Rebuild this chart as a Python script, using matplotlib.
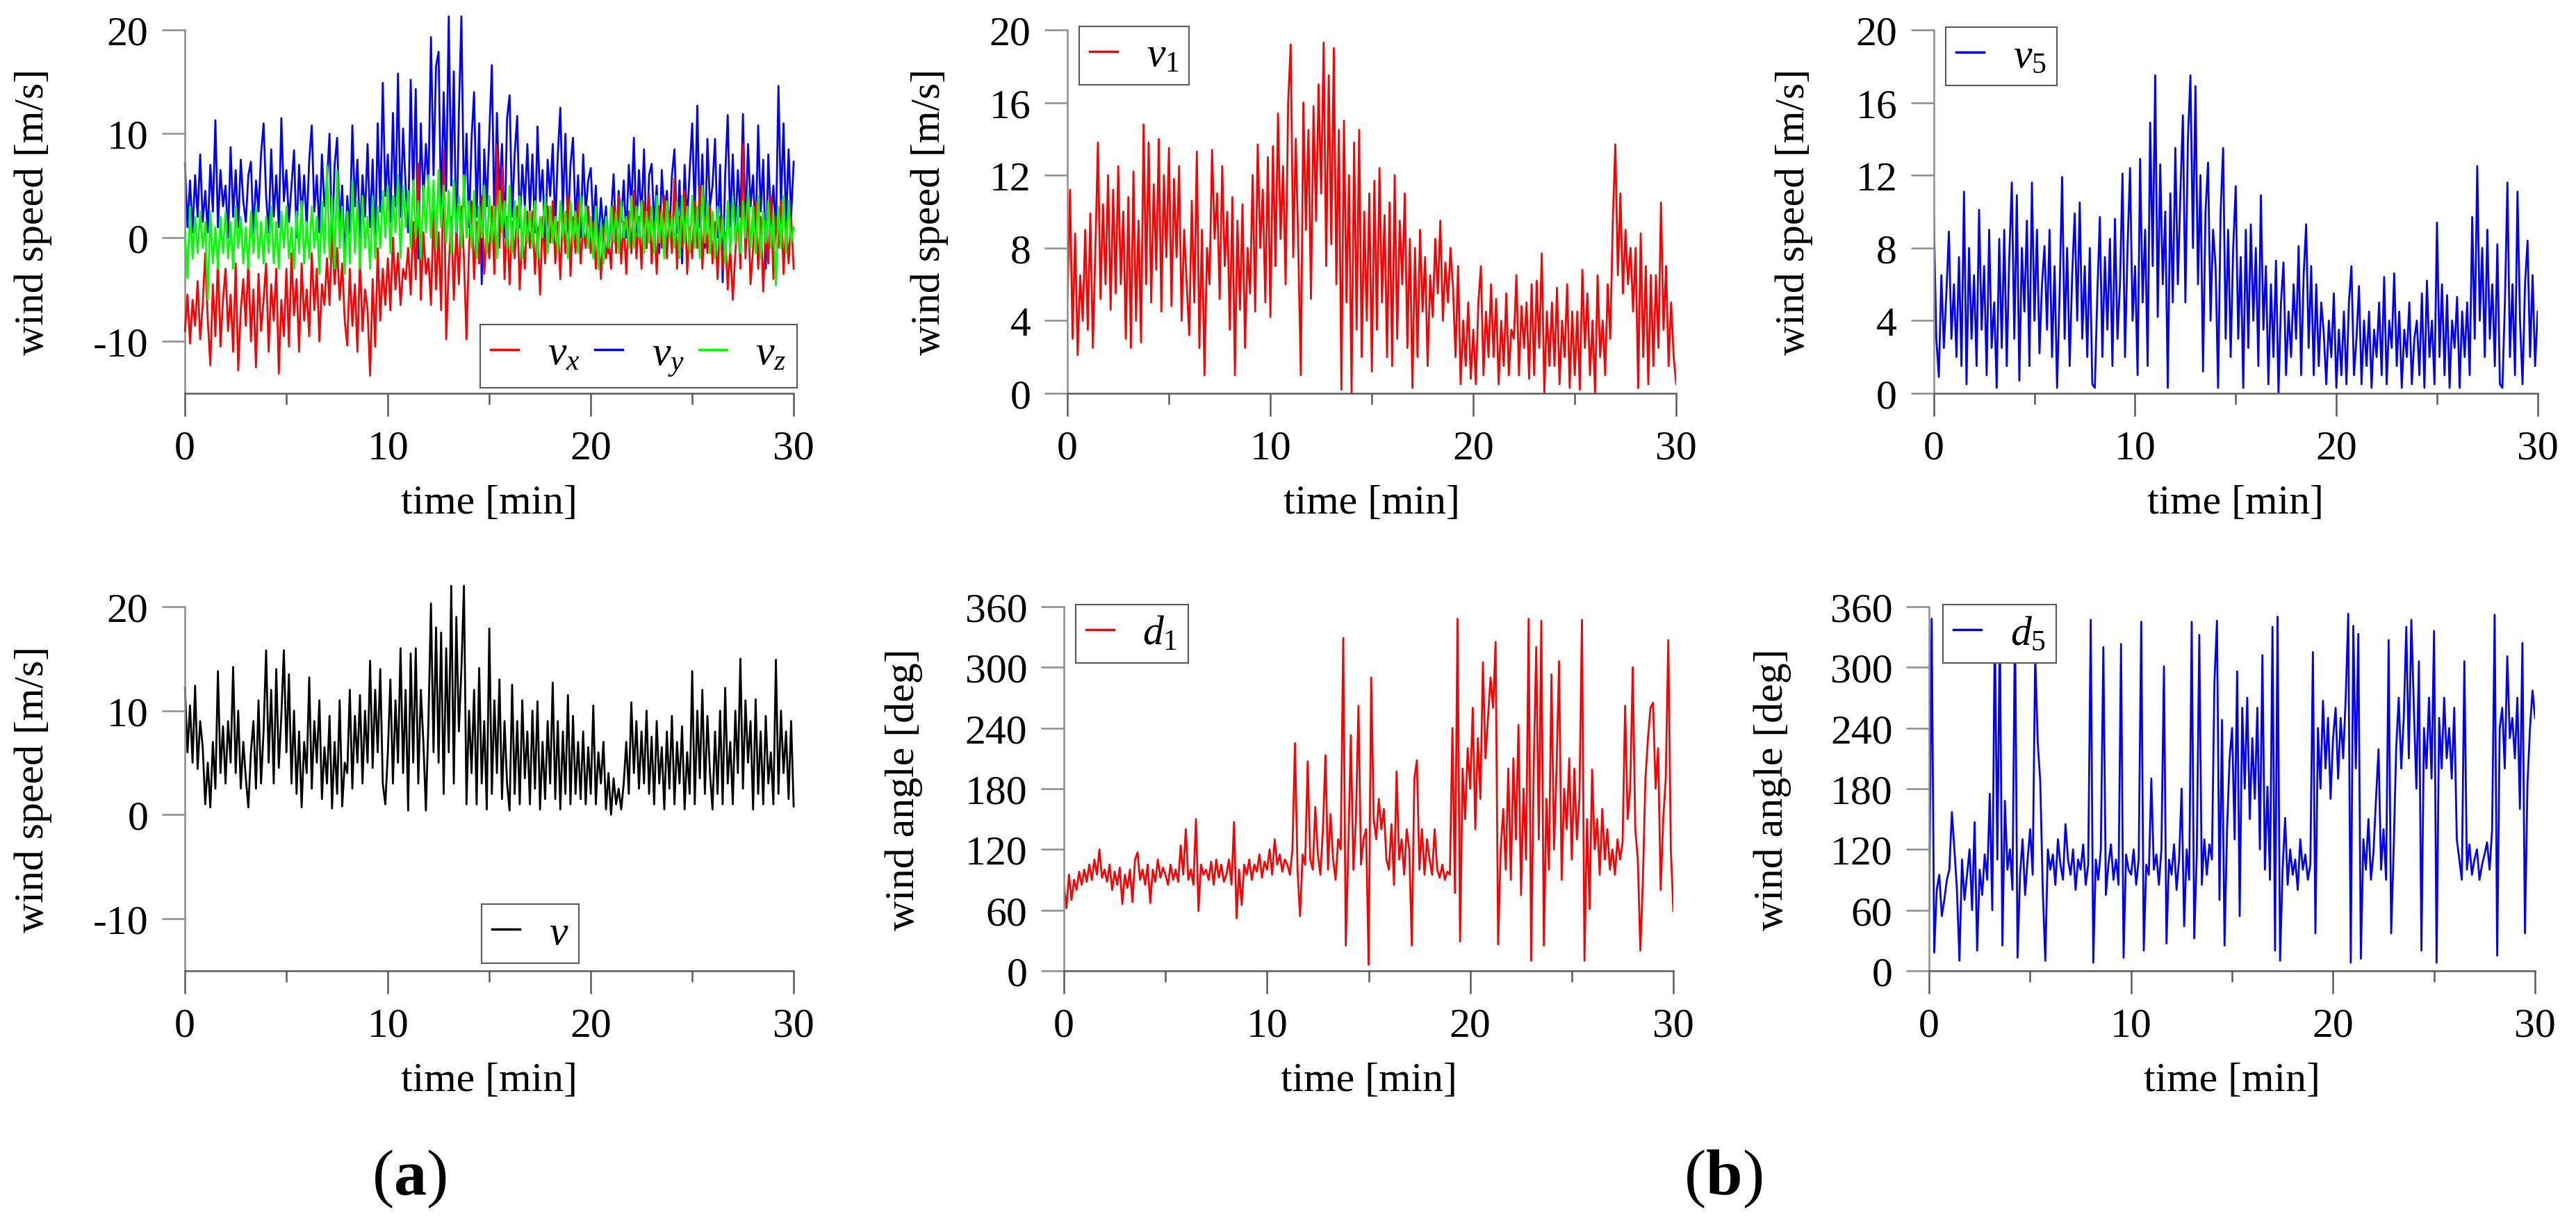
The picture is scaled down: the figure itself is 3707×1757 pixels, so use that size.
import numpy as np
import matplotlib.pyplot as plt

plt.rcParams['font.family'] = 'Liberation Serif'
plt.rcParams['mathtext.fontset'] = 'custom'
plt.rcParams['mathtext.rm'] = 'Liberation Serif'
plt.rcParams['mathtext.it'] = 'Liberation Serif:italic'
plt.rcParams['mathtext.bf'] = 'Liberation Serif:bold'
plt.rcParams['axes.unicode_minus'] = False

# values, 8 per minute (one row = one minute), last value at 30 min
vx = [-9.0, -5.5, -10.2, -6.0, -8.5, -4.2, -9.8, -6.5,
      -1.5, -8.0, -12.3, -4.5, -9.5, -2.0, -10.5, -6.0,
      -3.0, -9.0, -5.5, -11.0, -2.5, -12.8, -7.0, -4.0,
      -8.5, -2.0, -10.0, -5.0, -12.5, -3.5, -9.0, -6.0,
      -2.5, -11.0, -4.5, -8.0, -3.0, -13.1, -6.0, -9.5,
      -3.0, -10.5, -1.5, -7.5, -4.0, -11.0, -2.5, -8.0,
      -5.0, -9.5, -1.5, -7.0, -3.0, -10.0, -4.5, -6.5,
      -2.0, -6.5, 0.5, -4.5, -1.0, -6.0, -2.5, -8.0,
      -10.4, -3.0, -8.5, -4.5, -11.0, -2.0, -9.0, -5.0,
      -7.0, -13.3, -4.0, -10.5, -1.0, -8.0, -3.0, -6.5,
      -2.0, -7.0, 0.0, -5.0, -1.5, -6.5, -3.0, -4.0,
      -1.0, -5.5, 1.5, -4.0, 7.1, -6.0, 0.5, -3.5,
      -2.0, -6.5, 2.5, -5.0, 0.5, -7.0, 8.5, -9.8,
      -3.0, 2.0, -6.0, 1.0, -4.5, 3.0, -2.0, -9.8,
      -1.0, 3.5, -4.0, 1.5, -2.5, 4.0, -3.5, 0.5,
      -2.0, 3.0, -3.5, 8.9, -1.0, 6.9, -4.0, 2.0,
      -4.5, 1.5, -2.0, 3.0, -5.0, 0.5, -3.0, 2.5,
      -1.0, 2.5, -3.5, 1.0, -5.5, 2.0, -2.5, 3.0,
      -0.5, 3.5, -2.5, 1.5, -4.0, 2.5, -1.5, 4.0,
      -3.7, 2.0, -1.5, 3.5, -2.5, 1.0, -1.0, 3.0,
      -1.5, 1.5, -3.0, 0.5, -4.0, 1.0, -2.0, 0.0,
      -3.0, 3.0, -1.5, 4.0, -2.5, 1.5, -3.5, 2.5,
      -1.5, 4.5, -2.0, 2.0, -3.0, 3.5, -1.0, 4.2,
      -2.5, 1.5, -3.5, 3.0, -1.0, 4.0, -2.0, 2.5,
      -1.5, 5.7, -3.0, 2.0, -1.0, 4.5, -3.5, 1.0,
      -2.0, 3.5, -1.0, 5.0, -3.0, 2.0, -1.5, 3.0,
      -2.5, 1.5, -4.0, 2.0, -3.0, 0.5, -5.0, -1.0,
      -6.0, -1.5, 2.5, -3.0, 9.0, -2.0, 3.0, -4.5,
      -1.0, 3.5, -3.0, 2.0, -5.2, 1.0, -2.5, 4.0,
      -4.0, 2.0, -1.0, 3.5, -3.5, 1.5, -2.5, 2.0,
      -3.0]

vy = [7.2, 1.0, 5.5, 0.5, 6.0, 2.0, 8.0, 1.5,
      4.5, 0.5, 7.0, 2.5, 11.3, 1.0, 6.5, 3.0,
      5.0, 0.0, 8.7, 2.0, 6.5, 1.0, 7.5, 3.5,
      1.5, 6.0, 7.3, 0.5, 5.5, 2.5, 8.0, 11.0,
      4.0, 0.5, 8.5, 2.0, 6.0, 1.0, 11.5, 3.5,
      6.5, 1.5, 5.0, 8.4, 0.0, 7.0, 2.0, 6.0,
      1.0, 7.5, 10.8, 2.5, 6.0, 0.5, 8.0, 3.0,
      5.5, 10.0, -1.0, 7.0, 9.6, 1.0, 5.0, -2.5,
      4.0, 0.5, 10.8, 3.0, 7.5, 0.0, 6.0, 2.0,
      9.0, 1.0, 7.5, -1.0, 11.0, 2.5, 14.9, 4.0,
      8.0, 1.5, 12.0, 3.0, 15.8, 2.0, 10.5, 5.0,
      0.5, 15.2, 4.0, 14.3, -2.0, 11.0, 3.5, 9.0,
      5.0, 19.3, 6.0, 16.5, 17.9, 2.0, 14.0, 4.5,
      21.3, 5.0, 16.0, -1.5, 12.0, 21.3, 3.0, 10.0,
      1.0, 9.5, 14.0, 2.0, 11.0, -4.5, 8.5, 3.0,
      10.0, 16.6, 1.5, 12.0, 4.0, 9.0, 0.0, 11.5,
      13.7, 2.0, 8.0, 11.7, 1.0, 7.0, 3.0, 9.0,
      2.5, 8.0, 0.5, 10.7, 3.5, 6.5, -1.0, 7.5,
      4.0, 9.0, 1.0, 8.0, 12.5, 2.5, 10.0, 0.5,
      7.0, 9.6, 1.5, 6.0, 0.0, 8.0, 2.5, 5.5,
      6.7, 1.0, 5.0, -1.0, 3.8, 0.5, 3.0, -1.5,
      2.0, 6.1, -0.5, 4.5, 1.5, 5.5, 0.0, 7.0,
      3.0, 9.6, 0.5, 6.5, 2.0, 8.5, -1.0, 6.0,
      7.1, 1.0, 5.0, -1.5, 6.5, 2.0, 4.5, 0.0,
      6.0, 8.5, 0.5, 5.5, -2.5, 7.0, 1.5, 6.5,
      11.0, 2.0, 12.7, 1.0, 8.0, -1.0, 9.5, 3.0,
      5.0, 9.5, 0.0, 7.0, -4.3, 6.0, 11.8, 1.0,
      8.0, 0.5, 6.5, 2.0, 11.9, 1.0, 9.0, 3.0,
      6.0, 0.0, 10.8, 2.5, 7.5, -3.0, 8.0, 1.5,
      5.0, 0.5, 14.6, 3.0, 11.0, 1.0, 8.5, 2.0,
      7.3]

vz = [0.5, -3.9, 3.0, -2.0, 2.0, -1.5, 2.5, -1.0,
      1.5, -6.0, 2.5, -2.5, 1.0, -3.0, 2.0, -1.5,
      2.5, -2.0, 1.5, -3.0, 3.0, -1.0, 2.0, -2.5,
      1.0, -3.0, 2.5, -1.5, 3.0, -2.0, 1.5, -2.5,
      2.0, -1.5, 3.0, -2.5, 1.5, -3.0, 2.5, -1.0,
      3.0, -2.0, 1.0, -3.0, 2.5, -1.5, 3.5, -2.5,
      1.5, -2.0, 3.0, -1.0, 2.0, -3.5, 3.5, -1.5,
      6.9, -2.0, 4.0, -3.0, 6.5, -1.0, 3.0, -3.5,
      2.5, -2.5, 5.5, -1.5, 3.5, -3.0, 4.0, -1.0,
      2.0, -3.0, 4.0, -2.0, 3.0, -1.0, 4.5, 0.0,
      5.0, -1.5, 4.0, 0.5, 6.0, -2.0, 5.0, 1.0,
      4.5, -1.0, 5.5, 0.0, 3.5, -2.0, 5.0, 0.5,
      6.0, 0.0, 5.5, -1.0, 6.5, 1.0, 5.0, -0.5,
      4.5, -1.5, 5.5, 0.5, 4.0, -1.0, 6.0, 0.0,
      3.5, -1.0, 4.5, -2.0, 3.0, 0.0, 5.0, -1.5,
      4.0, -0.5, 3.0, -2.0, 4.5, 0.5, 3.5, -1.0,
      5.0, -1.5, 3.5, 0.0, 4.0, -2.0, 3.0, -0.5,
      2.5, -1.0, 3.5, -2.0, 2.0, 0.0, 4.0, -1.5,
      3.0, -0.5, 2.0, -1.5, 3.5, 0.0, 2.5, -2.0,
      3.5, -0.5, 2.5, -1.5, 4.0, 0.0, 3.0, -1.0,
      2.0, -2.0, 3.0, -3.0, 1.5, -2.5, 2.0, -1.0,
      3.0, -0.5, 2.5, -1.5, 3.5, 0.0, 2.0, -1.0,
      4.0, -1.0, 3.0, 0.0, 3.5, -1.5, 2.5, -0.5,
      3.0, -1.5, 4.0, -0.5, 2.5, -2.0, 3.5, 0.0,
      2.0, -1.0, 3.5, -2.0, 4.0, -0.5, 3.0, -1.5,
      4.0, -1.0, 3.0, -2.0, 5.0, -0.5, 3.5, -1.5,
      2.5, -2.0, 3.0, -1.0, 2.0, -2.5, 3.5, -1.5,
      4.0, -0.5, 3.0, -1.5, 3.5, 0.0, 4.5, -1.0,
      3.0, -1.5, 4.0, -2.0, 2.5, -0.5, 3.5, -1.0,
      2.5, -4.6, 3.0, -1.0, 4.0, -1.5, 3.5, -0.5,
      1.0]

v = [12.2, 6.0, 10.5, 5.0, 12.4, 4.4, 9.0, 6.5,
     1.0, 5.0, 0.7, 7.0, 2.5, 13.8, 4.0, 8.5,
     3.0, 9.0, 5.0, 14.2, 4.0, 10.0, 2.5, 7.0,
     3.5, 0.7, 6.0, 9.0, 2.5, 11.0, 3.0, 8.0,
     15.8, 5.0, 12.0, 3.0, 14.0, 4.5, 9.5, 15.8,
     6.0, 13.5, 3.0, 10.0, 2.0, 8.0, 0.7, 7.0,
     4.0, 13.2, 2.5, 9.0, 5.0, 11.0, 1.5, 6.5,
     3.0, 9.5, 0.6, 7.0, 2.0, 11.0, 0.8, 5.0,
     4.0, 12.0, 2.5, 9.5, 5.0, 11.5, 3.0, 10.0,
     5.0, 14.8, 4.5, 12.0, 6.0, 14.0, 3.0, 1.0,
     6.0, 13.0, 3.0, 11.0, 5.0, 16.0, 4.0, 12.0,
     0.4, 15.5, 5.0, 16.0, 3.0, 12.0, 7.0, 0.4,
     9.0, 20.3, 6.0, 18.0, 5.0, 17.5, 2.0, 16.0,
     6.0, 22.0, 3.0, 19.0, 8.0, 14.0, 22.0, 1.0,
     10.0, 4.0, 12.0, 1.0, 14.1, 3.0, 9.0, 0.5,
     17.9, 2.0, 11.0, 4.0, 13.0, 1.5, 9.0, 3.0,
     0.4, 12.5, 2.0, 9.0, 1.0, 11.0, 3.5, 8.0,
     1.0, 10.0, 2.5, 10.9, 0.5, 7.0, 1.5, 9.0,
     3.0, 12.7, 1.5, 9.0, 0.5, 8.0, 2.0, 11.5,
     1.0, 9.5, 2.0, 7.0, 1.5, 8.0, 1.0, 6.5,
     2.0, 10.5, 1.0, 6.0, 3.0, 7.0, 0.5, 4.0,
     0.0, 3.5, 1.0, 2.5, 0.5, 3.0, 7.0, 2.0,
     10.8, 4.0, 9.0, 2.5, 8.0, 3.0, 10.0, 2.0,
     7.5, 1.0, 9.0, 3.0, 6.5, 0.5, 8.0, 2.5,
     9.5, 1.0, 7.0, 3.0, 8.5, 0.5, 6.0, 2.0,
     13.8, 1.0, 10.0, 3.5, 12.0, 2.0, 9.5, 4.0,
     0.5, 8.0, 2.0, 10.0, 1.0, 12.2, 3.0, 7.0,
     1.0, 10.0, 4.0, 15.0, 2.5, 11.0, 5.0, 9.0,
     0.5, 11.1, 2.0, 8.0, 1.0, 9.5, 3.0, 6.0,
     1.0, 14.9, 2.0, 10.0, 4.0, 8.0, 1.5, 9.0,
     0.8]

v1 = [5.2, 11.2, 3.0, 8.8, 2.1, 6.5, 4.0, 9.0,
      3.5, 9.9, 2.5, 8.0, 13.8, 5.2, 10.4, 6.0,
      12.0, 4.6, 11.2, 5.5, 12.5, 6.0, 10.0, 3.0,
      10.8, 2.5, 12.2, 4.0, 9.5, 2.8, 14.8, 6.0,
      13.8, 5.0, 11.5, 6.8, 14.0, 4.5, 12.0, 7.5,
      13.5, 4.8, 11.8, 7.5, 12.5, 4.0, 9.0, 6.0,
      3.2, 10.6, 5.0, 13.3, 2.5, 9.0, 1.0, 8.0,
      6.0, 13.4, 8.5, 11.0, 5.2, 12.5, 7.0, 10.0,
      3.5, 10.8, 1.0, 9.5, 4.6, 10.4, 2.5, 8.0,
      5.5, 12.0, 4.5, 13.7, 8.0, 11.2, 5.0, 13.0,
      4.2, 13.6, 7.0, 15.4, 8.5, 12.5, 6.0, 16.0,
      19.2, 7.5, 14.0, 8.0, 1.0, 16.0, 9.0, 14.5,
      5.2, 15.8, 9.5, 17.0, 11.0, 19.3, 7.0, 17.5,
      8.2, 19.0, 6.0, 14.5, 0.2, 15.0, 5.0, 12.0,
      0.0, 13.8, 3.5, 14.5, 2.0, 10.0, 4.0, 11.0,
      1.2, 11.7, 3.5, 12.4, 5.0, 9.8, 2.0, 10.5,
      1.5, 12.0, 3.0, 9.5, 6.0, 11.0, 2.5, 8.5,
      0.3, 8.0, 2.0, 9.0, 4.5, 7.5, 1.5, 6.5,
      4.2, 8.5, 5.5, 9.5, 4.0, 7.2, 5.0, 8.0,
      5.8, 2.0, 7.0, 0.5, 4.0, 1.5, 5.0, 0.8,
      3.5, 0.5, 5.0, 7.0, 1.0, 4.5, 2.0, 6.0,
      2.0, 5.2, 0.5, 4.0, 1.5, 5.5, 1.0, 3.5,
      3.0, 6.5, 1.0, 4.8, 2.5, 5.0, 0.8, 6.0,
      1.0, 6.2, 2.5, 7.7, 0.0, 4.5, 1.5, 5.0,
      1.5, 5.8, 0.5, 4.0, 2.0, 6.0, 0.3, 4.5,
      1.0, 4.5, 0.2, 6.8, 2.5, 5.5, 1.0, 4.0,
      0.0, 6.5, 2.0, 4.0, 1.0, 6.0, 3.0, 9.5,
      13.7, 6.5, 11.0, 5.5, 9.0, 6.0, 8.0, 4.5,
      8.0, 0.3, 8.8, 2.0, 7.0, 0.5, 6.5, 1.5,
      6.5, 2.5, 10.5, 3.5, 7.0, 1.5, 5.0, 2.0,
      0.5]

v5 = [9.7, 3.0, 0.9, 6.5, 2.5, 5.5, 8.9, 3.0,
      6.0, 2.0, 7.5, 1.5, 11.1, 0.5, 8.0, 3.0,
      6.5, 1.5, 10.1, 3.5, 7.0, 1.0, 9.0, 2.5,
      5.0, 0.3, 8.5, 2.5, 9.0, 1.5, 7.5, 11.6,
      3.0, 10.9, 0.7, 8.0, 4.5, 9.5, 1.5, 11.6,
      4.0, 9.0, 2.2, 6.0, 8.1, 3.5, 9.0, 2.0,
      7.0, 0.3, 5.5, 11.9, 3.0, 8.0, 1.5, 6.5,
      9.9, 4.0, 10.5, 3.0, 7.0, 2.0, 8.0, 0.5,
      0.3, 5.5, 9.7, 2.0, 7.5, 3.5, 8.5, 1.5,
      9.6, 3.0, 6.0, 12.1, 2.0, 8.0, 12.4, 4.0,
      7.0, 1.0, 12.9, 5.0, 9.0, 1.5, 14.9, 7.0,
      17.5, 4.2, 12.6, 6.0, 10.0, 0.3, 11.0, 5.0,
      13.5, 6.0, 11.0, 15.3, 5.0, 14.0, 17.5, 8.0,
      16.9, 6.0, 12.0, 1.2, 10.0, 12.7, 4.0, 9.0,
      7.0, 0.3, 10.0, 13.5, 3.0, 9.0, 2.0, 8.0,
      11.4, 3.0, 7.5, 0.3, 9.0, 2.5, 9.3, 4.0,
      8.0, 1.5, 10.9, 3.5, 7.0, 0.5, 6.0, 2.0,
      7.3, 0.0, 5.0, 7.2, 1.0, 4.5, 2.0, 6.0,
      3.0, 8.1, 1.0, 6.5, 9.3, 2.5, 7.0, 1.0,
      6.0, 1.5, 5.0, 3.3, 0.5, 4.0, 2.0, 5.5,
      0.3, 3.5, 1.0, 4.5, 0.5, 5.0, 7.0, 1.0,
      3.0, 5.9, 0.5, 4.0, 1.5, 4.5, 0.3, 3.5,
      2.0, 5.0, 1.0, 6.4, 0.5, 4.0, 2.5, 6.6,
      1.5, 4.5, 0.3, 3.5, 2.0, 5.0, 0.5, 3.0,
      4.0, 1.0, 5.5, 0.3, 6.2, 2.0, 4.0, 0.5,
      9.4, 2.0, 6.0, 1.0, 5.4, 0.3, 4.0, 2.5,
      5.3, 0.3, 4.5, 2.0, 5.0, 1.0, 9.7, 3.0,
      12.5, 4.0, 8.0, 2.0, 9.0, 3.0, 6.0, 1.5,
      8.2, 0.5, 0.3, 5.0, 11.6, 2.0, 6.0, 1.0,
      11.1, 4.0, 0.5, 6.0, 8.4, 2.0, 6.5, 1.5,
      4.5]

d1 = [85, 62, 95, 70, 90, 80, 98, 85,
      100, 88, 105, 90, 110, 95, 120, 92,
      100, 88, 105, 80, 98, 85, 102, 66,
      95, 82, 100, 68, 110, 117, 90, 100,
      85, 105, 67, 100, 88, 110, 92, 102,
      95, 85, 105, 90, 100, 88, 124, 95,
      140, 90, 100, 85, 150, 59, 105, 95,
      100, 90, 108, 85, 110, 92, 105, 88,
      95, 110, 85, 147, 52, 100, 65, 105,
      95, 110, 90, 105, 98, 115, 92, 108,
      100, 120, 95, 130, 105, 115, 98, 110,
      105, 95, 120, 225, 100, 54, 115, 105,
      207, 110, 100, 162, 115, 95, 140, 213,
      100, 155, 110, 90, 130, 120, 329, 25,
      120, 233, 100, 150, 262, 105, 130, 140,
      6, 290, 150, 130, 170, 140, 160, 110,
      100, 145, 85, 197, 110, 130, 95, 140,
      120, 25, 190, 208, 100, 140, 95, 130,
      110, 95, 140, 100, 92, 105, 90, 98,
      95, 240, 77, 348, 29, 200, 150, 220,
      180, 260, 140, 230, 170, 305, 210, 250,
      290, 260, 325, 26, 120, 160, 100, 200,
      90, 210, 130, 243, 75, 180, 110, 348,
      10, 200, 320, 130, 346, 25, 170, 100,
      293, 120, 200, 306, 90, 180, 140, 210,
      110, 200, 130, 170, 347, 10, 150, 61,
      199, 120, 150, 95, 160, 110, 140, 100,
      120, 95, 130, 110, 127, 262, 150, 180,
      300, 140, 110, 20, 90, 190, 230, 260,
      265, 180, 220, 80, 150, 190, 327, 120,
      59]

d5 = [60, 348, 18, 80, 95, 54, 70, 90,
      100, 157, 120, 80, 10, 110, 70, 95,
      120, 60, 147, 20, 100, 75, 115, 90,
      175, 60, 341, 110, 340, 25, 168, 100,
      120, 80, 352, 13, 95, 130, 75, 110,
      140, 95, 312, 226, 187, 80, 10, 120,
      100, 115, 85, 130, 105, 90, 145, 110,
      95, 120, 80, 110, 100, 125, 85, 105,
      347, 8, 110, 90, 120, 320, 75, 105,
      125, 90, 110, 85, 323, 13, 115, 100,
      95, 120, 85, 110, 345, 20, 105, 95,
      190, 100, 115, 85, 120, 301, 27, 110,
      95, 125, 80, 110, 180, 44, 120, 90,
      345, 32, 115, 332, 85, 130, 95, 125,
      110, 285, 346, 70, 248, 25, 140, 210,
      240, 130, 296, 54, 260, 180, 270, 150,
      230, 170, 260, 120, 312, 100, 182, 90,
      340, 20, 350, 10, 100, 151, 85, 120,
      95, 110, 80, 130, 100, 115, 90, 105,
      315, 37, 240, 180, 267, 200, 250, 170,
      230, 260, 190, 250, 210, 270, 353, 8,
      341, 200, 333, 12, 130, 100, 150, 90,
      117, 170, 219, 100, 140, 90, 327, 37,
      120, 220, 270, 200, 250, 340, 210, 347,
      260, 180, 306, 20, 240, 200, 270, 190,
      336, 8, 250, 200, 270, 210, 240, 190,
      260, 130, 110, 90, 306, 100, 125, 95,
      110, 120, 90, 105, 115, 127, 100, 140,
      352, 15, 240, 260, 200, 311, 230, 250,
      210, 270, 160, 324, 37, 185, 240, 277,
      250]

t = np.linspace(0, 30, len(vx))

red = '#ff0000'
blue = '#0000ff'
green = '#00ff00'
FS = 43
LW = 2.0

fig = plt.figure(figsize=(37.07, 17.58), dpi=100)


def style(ax, ylim, yticks, ylabel, ylab_x):
    ax.set_xlim(0, 30)
    ax.set_ylim(*ylim)
    ax.set_xticks([0, 10, 20, 30])
    ax.set_xticks([5, 15, 25], minor=True)
    ax.set_yticks(yticks)
    ax.spines['top'].set_visible(False)
    ax.spines['right'].set_visible(False)
    ax.spines['left'].set_color('0.55')
    ax.spines['bottom'].set_color('0.35')
    ax.spines['left'].set_linewidth(1.8)
    ax.spines['bottom'].set_linewidth(1.8)
    ax.tick_params(which='major', direction='out', length=24, width=1.8,
                   pad=14, labelsize=FS)
    ax.tick_params(which='minor', direction='out', length=11.5, width=1.8)
    ax.tick_params(axis='x', which='both', color='0.35')
    ax.tick_params(axis='y', which='both', color='0.55')
    ax.set_xlabel('time [min]', fontsize=FS, va='center')
    ax.xaxis.set_label_coords(0.5, -0.302)
    ax.set_ylabel(ylabel, fontsize=FS, va='center')
    ax.yaxis.set_label_coords(ylab_x, 0.5)


def legend(ax, handles, labels, loc, anchor, ncol=1):
    leg = ax.legend(handles, labels, loc=loc, bbox_to_anchor=anchor, ncol=ncol,
                    fontsize=FS, handlelength=0.67, handletextpad=0.7,
                    columnspacing=0.35, borderpad=0.25, borderaxespad=0,
                    fancybox=False, framealpha=1, edgecolor='0.35')
    leg.get_frame().set_linewidth(1.5)
    for h in leg.get_lines():
        h.set_linewidth(2.5)


# (a) top: wind components
ax1 = fig.add_axes([0.0718, 0.6775, 0.2363, 0.2975])
lb, = ax1.plot(t, vy, color=blue, lw=LW, clip_on=False, zorder=2)
lr, = ax1.plot(t, vx, color=red, lw=LW, clip_on=False, zorder=3)
lg, = ax1.plot(t, vz, color=green, lw=LW, clip_on=False, zorder=4)
style(ax1, (-15, 20), [-10, 0, 10, 20], 'wind speed [m/s]', -0.249)
legend(ax1, [lr, lb, lg], [r'$v_x$', r'$v_y$', r'$v_z$'], 'lower right', (1.005, 0.015), ncol=3)

# (a) bottom: wind speed magnitude
ax4 = fig.add_axes([0.0718, 0.2048, 0.2363, 0.2981])
lk, = ax4.plot(t, v, color='black', lw=LW, clip_on=False)
style(ax4, (-15, 20), [-10, 0, 10, 20], 'wind speed [m/s]', -0.249)
legend(ax4, [lk], [r'$v$'], 'lower left', (0.487, 0.021))

# (b) top: wind speed at two points
ax2 = fig.add_axes([0.4144, 0.6775, 0.2363, 0.2975])
l1, = ax2.plot(t, v1, color=red, lw=LW)
style(ax2, (0, 20), [0, 4, 8, 12, 16, 20], 'wind speed [m/s]', -0.227)
legend(ax2, [l1], [r'$v_1$'], 'upper left', (0.019, 1.01))

ax3 = fig.add_axes([0.7507, 0.6775, 0.2344, 0.2975])
l5, = ax3.plot(t, v5, color=blue, lw=LW)
style(ax3, (0, 20), [0, 4, 8, 12, 16, 20], 'wind speed [m/s]', -0.231)
legend(ax3, [l5], [r'$v_5$'], 'upper left', (0.02, 1.008))

# (b) bottom: wind direction
ax5 = fig.add_axes([0.4130, 0.2048, 0.2366, 0.2981])
m1, = ax5.plot(t, d1, color=red, lw=LW)
style(ax5, (0, 360), [0, 60, 120, 180, 240, 300, 360], 'wind angle [deg]', -0.263)
legend(ax5, [m1], [r'$d_1$'], 'upper left', (0.019, 1.006))

ax6 = fig.add_axes([0.7489, 0.2048, 0.2352, 0.2981])
m5, = ax6.plot(t, d5, color=blue, lw=LW)
style(ax6, (0, 360), [0, 60, 120, 180, 240, 300, 360], 'wind angle [deg]', -0.259)
legend(ax6, [m5], [r'$d_5$'], 'upper left', (0.023, 1.006))

fig.text(0.159, 0.035, r'($\mathbf{a}$)', fontsize=68, ha='center', va='center')
fig.text(0.669, 0.035, r'($\mathbf{b}$)', fontsize=68, ha='center', va='center')

fig.savefig('out.png', dpi=100)
